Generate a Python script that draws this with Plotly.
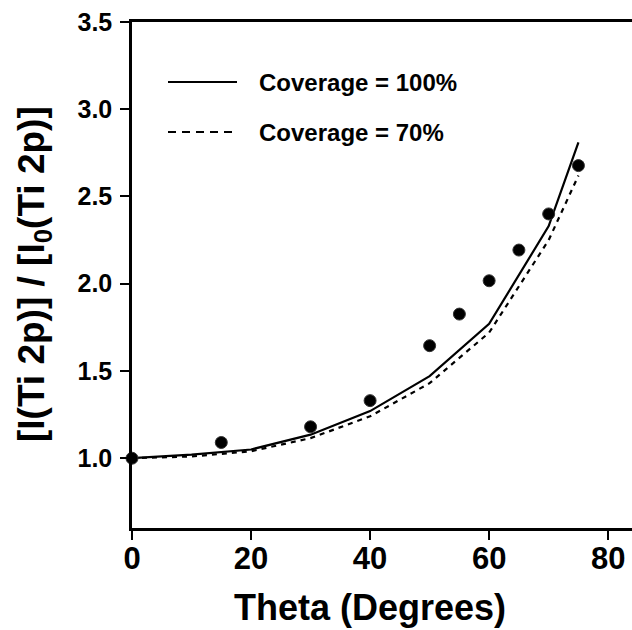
import plotly.graph_objects as go

# ---- data ----
theta_pts = [0, 15, 30, 40, 50, 55, 60, 65, 70, 75]
ratio_pts = [1.00, 1.09, 1.18, 1.33, 1.645, 1.826, 2.017, 2.193, 2.40, 2.677]

theta_curve = [0, 10, 20, 30, 40, 50, 60, 70, 75]
cov100 = [1.00, 1.02, 1.05, 1.135, 1.27, 1.47, 1.77, 2.33, 2.81]
cov70 = [1.00, 1.01, 1.04, 1.115, 1.24, 1.43, 1.72, 2.25, 2.62]

x_ticks = [0, 20, 40, 60, 80]
y_ticks = [1.0, 1.5, 2.0, 2.5, 3.0, 3.5]
legend_labels = ["Coverage = 100%", "Coverage = 70%"]

FONT = "Liberation Sans, Arial, Helvetica, sans-serif"

W, H = 632, 630
ML, MR, MT, MB = 132, 0, 22, 102
PW, PH = W - ML - MR, H - MT - MB


def px(xp):
    return (xp - ML) / PW


def py(yp):
    return (H - MB - yp) / PH


fig = go.Figure()
fig.add_trace(go.Scatter(x=theta_curve, y=cov100, mode="lines",
                         line=dict(color="black", width=2.2),
                         showlegend=False))
fig.add_trace(go.Scatter(x=theta_curve, y=cov70, mode="lines",
                         line=dict(color="black", width=2.2, dash="5px,5px"),
                         showlegend=False))
fig.add_trace(go.Scatter(x=theta_pts, y=ratio_pts, mode="markers",
                         marker=dict(color="black", size=12,
                                     line=dict(color="#333", width=1)),
                         showlegend=False, cliponaxis=False))

# legend drawn manually
legend_rows = [(82, "solid"), (132, "8px,6px")]
for (yp, dash), label in zip(legend_rows, legend_labels):
    fig.add_shape(type="line", xref="paper", yref="paper",
                  x0=px(168), x1=px(237), y0=py(yp), y1=py(yp),
                  line=dict(color="black", width=2, dash=dash))
    fig.add_annotation(xref="paper", yref="paper", x=px(257), y=py(yp),
                       text=label, showarrow=False, xanchor="left",
                       yanchor="middle",
                       font=dict(family=FONT, size=24, color="black",
                                 weight="bold"))

# axis titles
fig.add_annotation(xref="paper", yref="paper", x=px(370), y=py(607),
                   text="Theta (Degrees)", showarrow=False,
                   xanchor="center", yanchor="middle",
                   font=dict(family=FONT, size=36, color="black", weight="bold"))
fig.add_annotation(xref="paper", yref="paper", x=px(34), y=py(274),
                   text="[I(Ti 2p)] / [I<sub>0</sub>(Ti 2p)]", showarrow=False,
                   textangle=-90, xanchor="center", yanchor="middle",
                   font=dict(family=FONT, size=37, color="black", weight="bold"))

fig.update_layout(
    width=W, height=H,
    margin=dict(l=ML, r=MR, t=MT, b=MB, pad=0),
    paper_bgcolor="white", plot_bgcolor="white",
    showlegend=False,
    xaxis=dict(range=[0, 84], tickvals=x_ticks,
               ticktext=[str(v) for v in x_ticks],
               showgrid=False, zeroline=False,
               showline=True, linecolor="black", linewidth=2.5, mirror=True,
               ticks="outside", ticklen=9, tickwidth=2, tickcolor="black",
               ticklabelstandoff=-8,
               tickfont=dict(family=FONT, size=31, color="black", weight="bold")),
    yaxis=dict(range=[0.6, 3.5], tickvals=y_ticks,
               ticktext=[f"{v:.1f}" for v in y_ticks],
               showgrid=False, zeroline=False,
               showline=True, linecolor="black", linewidth=2.5, mirror=False,
               ticks="outside", ticklen=9, tickwidth=2, tickcolor="black",
               ticklabelstandoff=3,
               tickfont=dict(family=FONT, size=25, color="black", weight="bold")),
)

fig.write_html("out.html")
